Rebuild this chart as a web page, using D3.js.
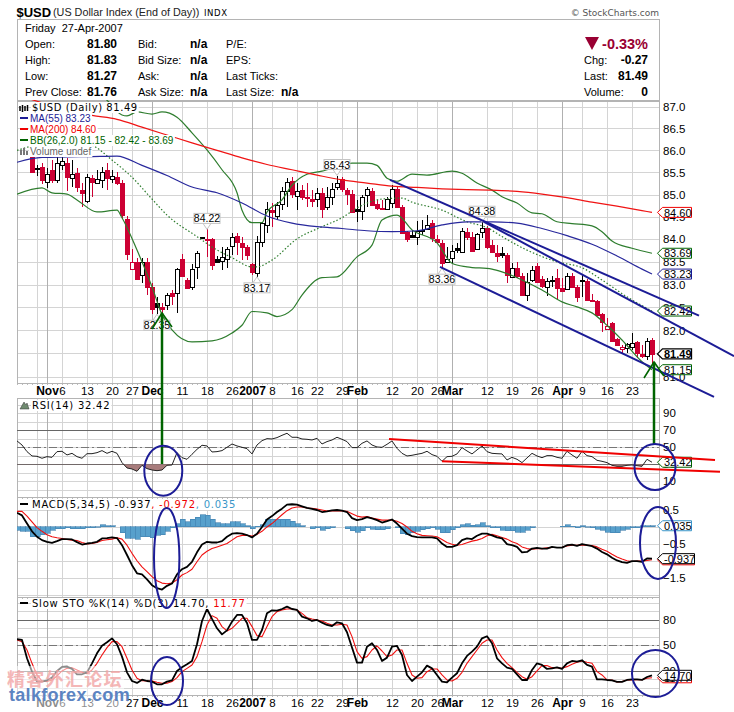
<!DOCTYPE html>
<html>
<head>
<meta charset="utf-8">
<title>$USD</title>
<script src="https://cdnjs.cloudflare.com/ajax/libs/d3/7.8.5/d3.min.js"></script>
<style>
html, body { margin: 0; padding: 0; background: #fff; }
svg { display: block; }
text { font-family: "Liberation Sans", Arial, sans-serif; fill: #000; }
.leg text, text.leg { font-family: "DejaVu Sans", Verdana, sans-serif; font-size: 10px; }
</style>
</head>
<body>
<script>
// market holidays inside the charted range
var closedDays = ["2006-11-23", "2006-12-25", "2007-01-01", "2007-01-15", "2007-02-19", "2007-04-06"];

// candles start on 27 Oct, the three days before are behind the legend
var candleStart = 3;
var prevCloseFirst = 85.9;
var opens = [85.87,85.60,85.62,85.28,85.55,85.33,85.66,85.71,85.37,85.48,85.10,84.86,85.37,85.26,85.33,85.55,85.35,85.39,85.26,84.46,
  83.34,83.50,83.21,83.50,82.95,82.60,82.51,82.56,82.82,82.82,83.56,83.10,82.95,83.39,84.04,84.01,84.01,83.56,83.52,83.56,
  83.87,84.08,83.92,83.83,83.45,83.26,83.94,84.32,84.65,84.52,84.79,85.08,85.30,84.97,85.10,84.95,84.90,84.90,85.04,84.72,
  84.95,85.17,85.35,85.10,85.01,84.68,84.63,84.99,85.08,84.79,84.70,84.68,84.81,85.12,84.72,84.17,84.10,84.06,84.21,84.24,
  84.37,84.01,83.92,83.50,83.59,83.80,83.72,84.17,84.06,83.78,84.17,84.26,83.87,83.69,83.69,83.65,83.17,83.37,83.19,82.77,
  83.10,83.41,83.13,82.95,83.09,83.15,82.93,82.91,83.19,82.95,83.10,83.08,82.67,82.65,82.36,82.03,82.17,81.81,81.60,81.62,
  81.64,81.75,81.49,81.44,81.80];
var highs = [85.91,85.66,85.71,85.60,85.78,85.96,85.89,85.82,85.78,85.60,85.26,85.46,85.44,85.55,85.62,85.71,85.55,85.51,85.33,84.52,
  83.78,83.59,83.59,83.59,83.04,82.73,82.60,82.82,82.88,83.37,83.67,83.15,83.45,83.74,84.05,84.22,84.03,83.63,83.83,83.83,
  84.15,84.15,84.06,83.87,83.47,84.08,84.39,84.83,84.81,84.83,85.17,85.37,85.39,85.26,85.21,85.26,85.10,85.15,85.15,85.17,
  85.26,85.43,85.39,85.15,85.10,84.88,84.99,85.17,85.15,84.88,84.88,84.95,85.21,85.17,84.77,84.19,84.21,84.41,84.43,84.54,
  84.43,84.10,83.98,83.83,83.87,83.92,84.26,84.26,84.17,84.15,84.38,84.30,83.98,83.87,83.83,83.69,83.47,83.50,83.26,83.26,
  83.41,83.47,83.19,83.15,83.19,83.34,83.15,83.26,83.26,82.99,83.21,83.13,82.80,82.67,82.38,82.26,82.19,81.83,81.68,81.72,
  81.94,81.77,81.68,81.83,81.83];
var lows = [85.49,85.42,85.24,85.15,85.26,85.26,85.55,85.08,85.17,85.06,84.72,84.81,84.95,85.24,85.15,85.10,85.26,85.21,84.46,83.54,
  83.32,83.10,83.04,82.77,82.36,82.35,82.36,82.45,82.56,82.38,83.17,82.91,82.88,83.13,84.02,83.61,83.32,83.47,83.32,83.37,
  83.65,83.65,83.54,83.54,83.21,83.17,83.83,84.15,84.28,84.43,84.65,84.72,84.92,84.65,84.88,84.72,84.72,84.72,84.48,84.65,
  84.77,85.10,85.06,84.77,84.59,84.39,84.43,84.72,84.74,84.65,84.67,84.67,84.70,84.70,84.12,83.94,84.03,83.87,84.10,84.21,
  83.94,83.89,83.36,83.47,83.47,83.69,83.69,83.98,83.74,83.76,84.03,83.79,83.69,83.50,83.59,83.04,83.15,83.15,82.75,82.65,
  83.06,83.04,82.93,82.75,82.95,82.69,82.84,82.88,82.93,82.62,82.73,82.65,82.62,82.32,81.96,82.01,81.77,81.66,81.51,81.51,
  81.57,81.40,81.40,81.36,81.27];
var closes = [85.51,85.59,85.33,85.46,85.33,85.71,85.75,85.39,85.46,85.17,85.04,85.39,85.28,85.35,85.51,85.37,85.42,85.26,84.54,83.69,
  83.50,83.13,83.50,82.95,82.47,82.51,82.47,82.77,82.76,83.34,83.19,82.93,83.34,83.69,84.03,84.00,83.43,83.50,83.61,83.78,
  84.06,83.94,83.83,83.65,83.28,83.94,84.37,84.68,84.61,84.77,85.08,85.28,85.01,85.08,84.95,84.93,84.86,85.04,84.68,84.95,
  85.12,85.26,85.12,85.01,84.61,84.63,84.95,85.12,84.77,84.70,84.68,84.90,85.12,84.72,84.15,84.01,84.06,84.19,84.20,84.32,
  84.03,83.94,83.47,83.56,83.74,83.75,84.19,84.06,83.76,84.12,84.26,83.83,83.72,83.63,83.65,83.21,83.37,83.19,82.77,83.06,
  83.32,83.06,82.97,83.08,83.08,82.93,82.86,83.19,82.95,82.73,83.08,82.67,82.65,82.34,82.19,82.10,81.79,81.68,81.64,81.70,
  81.72,81.51,81.44,81.76,81.49];

var ma55Days = [0,5,10,15,20,25,30,35,40,45,50,55,60,65,70,75,80,85,90,95,100,105,110,115,120,125,127];
var ma55 = [85.73,85.84,85.85,85.86,85.87,85.66,85.43,85.17,85.04,84.81,84.52,84.36,84.28,84.24,84.19,84.17,84.19,84.32,84.39,84.39,84.36,84.24,84.08,83.89,83.63,83.34,83.23];
var ma200 = [87.27,87.09,86.92,86.80,86.71,86.53,86.35,86.17,86.00,85.83,85.68,85.56,85.44,85.33,85.26,85.19,85.16,85.13,85.11,85.10,85.07,85.01,84.93,84.83,84.74,84.64,84.60];

var bbUpperDays = [0,10,18,21,22,24,27,29,32,35,38,41,44,45,47,49,50,53,55,58,61,64,67,70,72,74,76,79,82,87,89,92,95,97,100,103,105,108,111,115,117,119,123,127];
var bbUpper = [87.6,87.6,87.15,86.81,86.79,86.88,86.83,86.88,86.76,86.40,86.01,85.56,85.04,84.65,84.37,84.37,84.61,84.88,85.21,85.46,85.53,85.62,85.71,85.71,85.66,85.37,85.30,85.46,85.44,85.53,85.48,85.26,85.10,84.95,84.81,84.59,84.57,84.39,84.35,84.30,84.17,83.96,83.80,83.69];
var bbLowerDays = [0,5,7,10,12,16,20,21,24,27,29,31,35,39,43,45,47,50,52,55,57,61,64,68,71,73,76,79,84,87,90,95,97,101,105,109,112,115,118,121,125,127];
var bbLower = [85.01,85.15,85.04,85.01,84.88,84.61,84.65,84.48,83.76,82.95,82.34,82.01,81.75,81.77,81.94,82.11,82.41,82.38,82.30,82.45,82.77,83.15,83.17,83.61,83.87,84.43,84.54,84.21,83.92,83.47,83.39,83.34,83.28,83.10,82.88,82.62,82.51,82.38,82.11,81.79,81.32,81.15];
var bbMidDays = [0,10,15,19,23,27,30,36,39,43,47,48,51,56,61,65,68,73,77,79,85,90,94,97,102,108,113,117,122,127];
var bbMid = [86.00,86.24,86.12,85.78,85.39,84.90,84.54,84.06,83.83,83.59,83.39,83.39,83.54,84.01,84.28,84.48,84.70,84.90,84.92,84.83,84.65,84.39,84.26,84.06,83.76,83.50,83.37,83.10,82.73,82.42];

var rsi = [57.5,52.7,44.9,39.8,39.4,37.1,39.0,38.2,44.9,45.3,41.0,42.9,39.0,37.1,42.5,42.5,43.7,46.1,42.9,45.3,
  42.9,32.0,25.7,24.5,21.8,28.8,24.9,23.3,22.5,23.3,28.8,29.2,43.7,37.8,35.9,41.8,47.6,52.4,51.6,44.5,
  44.9,46.1,50.0,53.9,51.6,50.0,48.4,42.2,52.7,57.8,60.2,59.8,61.4,64.1,66.5,61.8,61.8,59.8,59.4,58.6,
  60.6,53.9,56.7,58.6,61.8,59.4,56.7,49.6,49.6,54.7,57.5,52.7,50.4,50.0,53.5,57.5,48.8,42.9,39.8,40.6,
  41.8,42.9,45.3,41.4,39.4,33.5,39.0,39.4,42.2,49.6,45.7,42.2,46.9,51.6,44.9,42.9,42.5,42.2,35.1,38.2,
  35.9,32.0,37.5,42.9,39.8,37.8,40.2,40.2,38.2,37.1,45.3,41.0,37.1,45.3,40.2,39.0,34.7,33.5,32.0,28.8,
  27.6,27.6,28.8,29.2,28.4,27.6,35.9,32.42];

var macd = [.42,.34,.10,-.13,-.29,-.39,-.44,-.47,-.42,-.36,-.36,-.37,-.45,-.52,-.49,-.47,-.44,-.34,-.33,-.31,
  -.33,-.54,-.83,-1.13,-1.37,-1.40,-1.55,-1.72,-1.81,-1.85,-1.74,-1.67,-1.40,-1.25,-1.18,-1.03,-.75,-.52,-.44,-.46,
  -.46,-.42,-.29,-.20,-.18,-.20,-.24,-.31,-.20,0,.22,.32,.44,.54,.66,.67,.66,.61,.56,.53,
  .50,.44,.46,.49,.50,.48,.44,.26,.20,.23,.29,.25,.20,.13,.17,.22,.10,-.05,-.20,-.27,
  -.30,-.31,-.31,-.31,-.34,-.49,-.59,-.59,-.54,-.39,-.34,-.36,-.26,-.20,-.20,-.25,-.31,-.34,-.51,-.54,
  -.59,-.75,-.74,-.64,-.62,-.64,-.64,-.59,-.61,-.61,-.54,-.52,-.56,-.51,-.54,-.57,-.64,-.74,-.81,-.91,
  -.99,-1.04,-1.06,-1.01,-1.01,-1.03,-.93,-.937];
var macdSignal = [.46,.46,.32,.15,-.02,-.13,-.23,-.29,-.32,-.34,-.37,-.39,-.40,-.46,-.50,-.49,-.46,-.40,-.38,-.36,
  -.32,-.36,-.54,-.78,-1.0,-1.18,-1.32,-1.47,-1.59,-1.66,-1.68,-1.66,-1.56,-1.42,-1.35,-1.25,-1.03,-.83,-.72,-.64,
  -.59,-.54,-.49,-.39,-.29,-.25,-.25,-.27,-.22,-.13,0,.10,.23,.36,.48,.56,.59,.59,.56,.55,
  .53,.50,.47,.47,.48,.47,.46,.39,.32,.29,.31,.26,.23,.20,.20,.20,.17,.10,0,-.13,
  -.20,-.25,-.26,-.27,-.29,-.37,-.46,-.51,-.54,-.52,-.47,-.42,-.39,-.34,-.26,-.22,-.26,-.31,-.36,-.44,
  -.49,-.59,-.64,-.66,-.64,-.64,-.62,-.61,-.61,-.60,-.56,-.54,-.54,-.53,-.54,-.55,-.59,-.66,-.72,-.81,
  -.89,-.95,-1.0,-1.02,-1.01,-1.01,-.99,-.972];
var macdHist = [-.10,-.13,-.13,-.29,-.29,-.23,-.18,-.10,-.05,-.05,-.03,-.05,-.05,-.05,-.02,-.02,-.01,.07,.04,.04,
  0,-.17,-.34,-.34,-.37,-.29,-.29,-.32,-.25,-.23,-.13,-.02,.10,.23,.15,.23,.29,.36,.34,.23,
  .13,.10,.10,.16,.16,.10,.03,-.05,.02,.07,.23,.23,.23,.23,.23,.17,.10,.03,0,-.05,
  -.02,-.10,-.05,-.02,0,0,-.05,-.12,-.15,-.12,-.03,-.07,-.08,-.08,-.05,0,-.02,-.20,-.23,-.17,
  -.13,-.08,-.05,-.03,-.07,-.17,-.17,-.08,-.02,.07,.10,.05,.07,.13,.03,-.02,-.03,-.10,-.12,-.12,
  -.15,-.15,-.10,-.02,0,0,0,0,0,.02,.07,.02,-.02,.03,-.01,-.02,-.07,-.10,-.15,-.17,
  -.17,-.10,-.07,-.02,-.02,.03,.04,.035];

var stoK = [57.1,56.3,34.7,19,7.3,7.3,8.8,12,19.8,24.5,24.9,22.2,15.9,15.9,18.2,28.8,40.6,49.6,53.5,58.2,
  51.2,36.7,18.2,8,5.7,9.6,8,7.3,4.1,4.1,7.3,8.8,19.8,24.1,27.6,31.6,51.2,78.6,92.7,81,
  70,62.9,67.6,77.8,85.7,85.7,76.3,56.3,56.3,68,87.6,91.2,90.8,92.7,95.5,92.7,91.6,83.7,81.8,78.6,
  79.8,76.7,73.9,72.7,77.1,75.9,65.3,47.3,29.6,29.6,48.4,52.4,44.5,31.6,35.5,48.4,49.2,38.6,15.1,8,
  13.1,18.2,26.1,22.9,15.1,7.3,6.5,12,17.1,28.8,37.5,42.5,48.4,58.2,60.6,52.4,34.7,28.8,23.7,22.2,
  15.9,9.2,9.2,21,28.8,26.9,22.2,22.9,24.1,22.2,28.8,31.6,30.8,32.4,26.9,24.9,10,10,9.2,8.8,
  6.9,6.9,9.2,10,10,9.2,12.7,14.70];
var stoD = [56.3,54.3,44.5,28.8,15.1,8,7.3,9.2,13.9,19.8,22.9,23.7,21,18.2,16.7,21,28.8,38.6,47.3,54.3,
  54.3,48.4,34.7,21,11.2,8.4,8,8,6.5,5.3,5.3,7.3,12,19,22.9,26.9,36.7,54.3,73.9,84.9,
  81.8,72,66.9,70,75.9,81.8,81.8,72,61.4,60.2,72,83.7,89.6,91.6,92.7,92.7,91.6,87.6,82.5,81,
  79.8,78.6,75.9,73.9,73.9,74.7,73.9,60.2,42.5,34.7,36.7,44.5,49.2,43.3,36.7,38.6,44.5,44.5,28.8,15.1,
  11.2,12,19,22.2,22.2,15.1,9.2,8,11.2,18.2,28.8,36.7,44.5,52.4,56.3,56.3,44.5,35.5,28.8,23.7,
  18.2,13.1,10,13.1,19.8,26.1,26.1,23.7,23.7,22.9,24.9,27.6,30,31.6,30,28.8,19,15.1,9.2,9.2,
  6.9,7.3,9.2,9.2,9.6,9.6,11.2,11.77];

// x axis labels, label day and whether it is a month start
var tickLabels = ["Nov","6","13","20","27","Dec","11","18","26","2007","8","16","22","29","Feb","12","20","26","Mar","12","19","26","Apr","9","16","23"];
var tickDates = ["2006-11-01","2006-11-06","2006-11-13","2006-11-20","2006-11-27","2006-12-01","2006-12-11","2006-12-18","2006-12-26","2007-01-02","2007-01-08","2007-01-16","2007-01-22","2007-01-29","2007-02-01","2007-02-12","2007-02-20","2007-02-26","2007-03-01","2007-03-12","2007-03-19","2007-03-26","2007-04-02","2007-04-09","2007-04-16","2007-04-23"];
var monthLabels = ["Nov","Dec","2007","Feb","Mar","Apr"];

var priceTicks = [81,81.5,82,82.5,83,83.5,84,84.5,85,85.5,86,86.5,87];
var rsiTicks = [10,30,50,70,90];
var macdTicks = [-1.5,-.5,.5];
var stoTicks = [20,50,80];

// high and low callouts on the price panel
var calloutDays = [28,38,48,64,85,93];
var calloutValues = [82.35,84.22,83.17,85.43,83.36,84.38];
var calloutBelow = [true,false,true,false,true,false];

var infoRows = [
  ["Open:","81.80","Bid:","n/a","P/E:",""],
  ["High:","81.83","Bid Size:","n/a","EPS:",""],
  ["Low:","81.27","Ask:","n/a","Last Ticks:",""],
  ["Prev Close:","81.76","Ask Size:","n/a","Last Size:","n/a"]
];

// hand drawn lines on the chart: [day, value]
var channelLines = [[[74.6,85.33],[136.4,82.32]],[[93.4,84.39],[143.4,81.44]],[[84.6,83.39],[139.4,80.57]]];
var rsiLines = [[[74.4,59.8],[139.6,35.1]],[[85,33.5],[140.6,21.3]]];

var navy = "#1c1c96", darkGreen = "#006400", candleRed = "#cc0033", gridCol = "#d4d4d4", frameCol = "#b4b4b4";
var left = 17, right = 659;

var fmtDay = d3.timeFormat("%Y-%m-%d");
var days = d3.timeDay.range(new Date(2006, 9, 24), new Date(2007, 3, 28)).filter(function(d) {
  return d.getDay() != 0 && d.getDay() != 6 && closedDays.indexOf(fmtDay(d)) < 0;
});
var dayKeys = days.map(fmtDay);

var svg = d3.select("body").append("svg").attr("width", 734).attr("height", 712);

var x = d3.scaleLinear().domain([0, days.length - 1]).range([left, left + 5 * (days.length - 1)]);
function dayX(key) { return x(dayKeys.indexOf(key)); }

var yPrice = d3.scaleLog().domain([81, 87]).range([376.7, 106.7]);
var yRsi = d3.scaleLinear().domain([0, 100]).range([489.8, 404.8]);
var yMacd = d3.scaleLinear().domain([-1.5, .5]).range([577.7, 510]);
var ySto = d3.scaleLinear().domain([0, 100]).range([687.8, 602.8]);

function add_clip(id, top, bottom) {
  svg.append("clipPath").attr("id", id).append("rect")
    .attr("x", left).attr("y", top).attr("width", right - left).attr("height", bottom - top);
}

// frame, grid and tick labels of one panel
function add_panel(top, bottom, y, gridValues, axisTicks, fmt) {
  var g = svg.append("g").attr("shape-rendering", "crispEdges");
  g.selectAll(".h").data(gridValues).enter().append("line")
    .attr("x1", left).attr("x2", right)
    .attr("y1", function(d) { return Math.round(y(d)) + .5; })
    .attr("y2", function(d) { return Math.round(y(d)) + .5; })
    .attr("stroke", gridCol);
  var vx = tickDates.concat(["2006-10-30"]);
  g.selectAll(".v").data(vx).enter().append("line")
    .attr("x1", function(d) { return dayX(d) + .5; })
    .attr("x2", function(d) { return dayX(d) + .5; })
    .attr("y1", top).attr("y2", bottom)
    .attr("stroke", function(d, i) {
      return i < tickLabels.length && monthLabels.indexOf(tickLabels[i]) >= 0 ? "#b0b0b0" : gridCol;
    });
  // day ticks along the lower edge
  g.selectAll(".t").data(days).enter().append("line")
    .attr("x1", function(d, i) { return x(i) + .5; })
    .attr("x2", function(d, i) { return x(i) + .5; })
    .attr("y1", bottom).attr("y2", bottom + 2)
    .attr("stroke", "#bbb");
  g.append("rect").attr("x", left + .5).attr("y", top + .5)
    .attr("width", right - left).attr("height", bottom - top)
    .attr("fill", "none").attr("stroke", frameCol);

  var axis = d3.axisRight(y).tickValues(axisTicks).tickFormat(fmt).tickSize(0).tickPadding(4);
  var ag = svg.append("g").attr("transform", "translate(" + right + ",0)").call(axis);
  ag.select(".domain").remove();
  ag.selectAll("text").attr("font-size", 11.5).attr("font-family", "Liberation Sans").attr("fill", "#000");
}

function add_x_labels(yPos) {
  svg.append("g").selectAll("text").data(tickLabels).enter().append("text")
    .attr("x", function(d, i) { return dayX(tickDates[i]) + .5; })
    .attr("y", yPos)
    .attr("text-anchor", "middle")
    .attr("font-size", function(d) { return monthLabels.indexOf(d) >= 0 ? 12 : 11.5; })
    .attr("font-weight", function(d) { return monthLabels.indexOf(d) >= 0 ? "bold" : "normal"; })
    .text(function(d) { return d; });
}

function add_line(clip, y, xs, ys, col, w, dash, curve) {
  var line = d3.line()
    .x(function(d) { return x(d[0]); })
    .y(function(d) { return y(d[1]); });
  if (curve) line.curve(curve);
  svg.append("path")
    .datum(xs.map(function(d, i) { return [d, ys[i]]; }))
    .attr("clip-path", clip ? "url(#" + clip + ")" : null)
    .attr("d", line)
    .attr("fill", "none").attr("stroke", col).attr("stroke-width", w)
    .attr("stroke-dasharray", dash || null)
    .attr("stroke-linejoin", "round");
}

function add_level(y, value, col, dash) {
  svg.append("line").attr("x1", left).attr("x2", right)
    .attr("y1", Math.round(y(value)) + .5).attr("y2", Math.round(y(value)) + .5)
    .attr("stroke", col).attr("stroke-dasharray", dash || null)
    .attr("shape-rendering", "crispEdges");
}

// pointer tag with the last value next to the axis
function add_tag(yPos, label, col, bold) {
  var g = svg.append("g").attr("transform", "translate(0," + yPos + ")");
  var end = label.length > 5 ? 694.5 : 691.5;
  g.append("path")
    .attr("d", "M657.5,0 L662.5,-5 L" + end + ",-5 L" + end + ",5 L662.5,5 Z")
    .attr("fill", "#fff").attr("stroke", col).attr("stroke-width", bold ? 1.3 : 1);
  g.append("text").attr("x", 664).attr("y", 4.2)
    .attr("font-size", 11).attr("font-weight", bold ? "bold" : "normal")
    .text(label);
}

function add_legend_text(xPos, yPos, parts, spacing, narrow) {
  var t = svg.append("text").attr("class", narrow ? null : "leg").attr("x", xPos).attr("y", yPos)
    .attr("font-size", 10).style("letter-spacing", spacing + "px");
  parts.forEach(function(p) { t.append("tspan").style("fill", p[1]).text(p[0]); });
  var b = t.node().getBBox();
  svg.insert("rect", function() { return t.node(); })
    .attr("x", b.x - 1).attr("y", b.y).attr("width", b.width + 2).attr("height", b.height).attr("fill", "#fff");
  return t;
}

function add_header() {
  svg.append("text").attr("x", 16.5).attr("y", 16.5).attr("font-size", 13).attr("font-weight", "bold").text("$USD");
  svg.append("text").attr("x", 53).attr("y", 16).attr("font-size", 10.8).style("fill", "#222").text("(US Dollar Index (End of Day))");
  svg.append("text").attr("class", "leg").attr("x", 204).attr("y", 16).style("font-size", "8.5px").style("letter-spacing", ".6px").text("INDX");
  svg.append("text").attr("class", "leg").attr("x", 659).attr("y", 15.5).attr("text-anchor", "end")
    .style("font-size", "9px").style("fill", "#555").text("\u00a9 StockCharts.com");

  svg.append("rect").attr("x", left + .5).attr("y", 19.5).attr("width", right - left).attr("height", 81)
    .attr("fill", "#fff").attr("stroke", frameCol).attr("shape-rendering", "crispEdges");

  svg.append("text").attr("x", 25).attr("y", 32).attr("font-size", 11).text("Friday  27-Apr-2007")
    .style("white-space", "pre");

  var rowY = [48, 64, 80, 96];
  infoRows.forEach(function(r, i) {
    svg.append("text").attr("x", 25).attr("y", rowY[i]).attr("font-size", 11).text(r[0]);
    svg.append("text").attr("x", 87).attr("y", rowY[i]).attr("font-size", 12).attr("font-weight", "bold").text(r[1]);
    svg.append("text").attr("x", 138).attr("y", rowY[i]).attr("font-size", 11).text(r[2]);
    svg.append("text").attr("x", 190).attr("y", rowY[i]).attr("font-size", 12).attr("font-weight", "bold").text(r[3]);
    svg.append("text").attr("x", 226).attr("y", rowY[i]).attr("font-size", 11).text(r[4]);
    svg.append("text").attr("x", 281).attr("y", rowY[i]).attr("font-size", 12).attr("font-weight", "bold").text(r[5]);
  });

  svg.append("path").attr("d", "M585,37 L599,37 L592,50 Z").attr("fill", "#990033");
  svg.append("text").attr("x", 648).attr("y", 49).attr("text-anchor", "end").attr("font-size", 14.5)
    .attr("font-weight", "bold").style("fill", "#990033").text("-0.33%");
  var sideRows = [["Chg:", "-0.27", 64], ["Last:", "81.49", 80], ["Volume:", "0", 96]];
  sideRows.forEach(function(r) {
    svg.append("text").attr("x", 584).attr("y", r[2]).attr("font-size", 11).text(r[0]);
    svg.append("text").attr("x", 648).attr("y", r[2]).attr("text-anchor", "end").attr("font-size", 12)
      .attr("font-weight", "bold").text(r[1]);
  });
}

function add_candles() {
  var data = closes.map(function(c, i) {
    return {
      day: i + candleStart, o: opens[i], h: highs[i], l: lows[i], c: c,
      prev: i == 0 ? prevCloseFirst : closes[i - 1]
    };
  });
  function col(d) { return d.c >= d.prev ? "#000" : candleRed; }
  var g = svg.append("g").attr("clip-path", "url(#clipPrice)").attr("shape-rendering", "crispEdges");
  var c = g.selectAll("g").data(data).enter().append("g");
  c.append("line")
    .attr("x1", function(d) { return x(d.day) + .5; })
    .attr("x2", function(d) { return x(d.day) + .5; })
    .attr("y1", function(d) { return yPrice(d.h); })
    .attr("y2", function(d) { return yPrice(d.l); })
    .attr("stroke", col);
  c.append("rect")
    .attr("x", function(d) { return x(d.day) - 1.5; })
    .attr("width", 4)
    .attr("y", function(d) { return Math.round(yPrice(Math.max(d.o, d.c))) + .5; })
    .attr("height", function(d) { return Math.max(1, Math.abs(yPrice(d.o) - yPrice(d.c))); })
    .attr("fill", function(d) { return d.c > d.o ? "#fff" : col(d); })
    .attr("stroke", col);
}

function add_callouts() {
  calloutValues.forEach(function(v, i) {
    var px = x(calloutDays[i]), tip = yPrice(v), below = calloutBelow[i];
    var cy = below ? tip + 11 : tip - 11;
    svg.append("path")
      .attr("d", "M" + (px - 4) + "," + (cy + (below ? -5 : 5)) + " L" + px + "," + tip + " L" + (px + 4) + "," + (cy + (below ? -5 : 5)))
      .attr("fill", "#fff").attr("stroke", "#c4c4c4");
    svg.append("rect").attr("x", px - 13).attr("y", cy - 5).attr("width", 26).attr("height", 10)
      .attr("fill", "#fff").attr("stroke", "#c4c4c4");
    svg.append("text").attr("x", px).attr("y", cy + 4).attr("text-anchor", "middle")
      .attr("font-size", 10.5).text(v.toFixed(2));
  });
}

function add_ellipse(cx, cy, rx, ry) {
  svg.append("ellipse").attr("cx", cx).attr("cy", cy).attr("rx", rx).attr("ry", ry)
    .attr("fill", "none").attr("stroke", navy).attr("stroke-width", 2);
}

function add_arrow(px, tip, end) {
  var col = darkGreen;
  svg.append("line").attr("x1", px).attr("x2", px).attr("y1", tip).attr("y2", end)
    .attr("stroke", col).attr("stroke-width", 2.5);
  svg.append("path").attr("d", "M" + (px - 10) + "," + (tip + 16) + " L" + px + "," + tip + " L" + (px + 10) + "," + (tip + 14))
    .attr("fill", "none").attr("stroke", col).attr("stroke-width", 1.6);
}

// ---- draw ----
add_header();
add_clip("clipPrice", 100, 384);
add_clip("clipRsi", 398, 498);
add_clip("clipMacd", 498, 597);
add_clip("clipSto", 597, 695);

add_panel(100.5, 383, yPrice, priceTicks, priceTicks, d3.format(".1f"));
add_x_labels(395);
add_panel(398, 497, yRsi, d3.range(0, 101, 10), rsiTicks, d3.format("d"));
add_panel(497, 597, yMacd, [-2, -1.5, -1, -.5, 0, .5], macdTicks, d3.format(".1f"));
add_panel(597, 695, ySto, d3.range(0, 101, 10), stoTicks, d3.format("d"));
add_x_labels(707);

// price panel
add_candles();
add_line("clipPrice", yPrice, bbLowerDays, bbLower, "#2e7d2e", 1.2, null, d3.curveMonotoneX);
add_line("clipPrice", yPrice, bbUpperDays, bbUpper, "#2e7d2e", 1.2, null, d3.curveMonotoneX);
add_line("clipPrice", yPrice, bbMidDays, bbMid, "#2e7d2e", 1.2, "1.5,2", d3.curveMonotoneX);
add_line("clipPrice", yPrice, ma55Days, ma55, "#28289c", 1.2, null, d3.curveMonotoneX);
add_line("clipPrice", yPrice, ma55Days, ma200, "#f01414", 1.2, null, d3.curveMonotoneX);
add_callouts();

// price legend
add_legend_text(32, 111, [["$USD (Daily) 81.49", "#000"]], .55);
add_legend_text(30, 122, [["MA(55) 83.23", navy]], 0, true);
add_legend_text(30, 133, [["MA(200) 84.60", "#f00000"]], 0, true);
add_legend_text(30, 144, [["BB(26,2.0) 81.15 - 82.42 - 83.69", darkGreen]], 0, true);
add_legend_text(30, 155, [["Volume undef", "#666"]], 0, true);
svg.append("path").attr("d", "M20,106 v5 M22.5,105 v7 M25,106 v5 M27.5,105 v6").attr("stroke", "#000").attr("stroke-width", 1.5);
svg.append("line").attr("x1", 20).attr("x2", 28).attr("y1", 118).attr("y2", 118).attr("stroke", navy).attr("stroke-width", 2);
svg.append("line").attr("x1", 20).attr("x2", 28).attr("y1", 129).attr("y2", 129).attr("stroke", "#f00000").attr("stroke-width", 2);
svg.append("line").attr("x1", 20).attr("x2", 28).attr("y1", 140).attr("y2", 140).attr("stroke", darkGreen).attr("stroke-width", 2);
svg.append("path").attr("d", "M20,155 v-5 h2 v5 M23,155 v-7 h2 v7 M26,155 v-4 h2 v4").attr("fill", "#777");

// rsi panel
add_level(yRsi, 70, "#666");
add_level(yRsi, 30, "#666");
add_level(yRsi, 50, "#777", "8,3,2,3");
var rsiDays = rsi.map(function(d, i) { return i; });
svg.append("clipPath").attr("id", "clipRsiLow").append("rect")
  .attr("x", left).attr("y", yRsi(30)).attr("width", right - left).attr("height", 30);
svg.append("path").datum(rsi)
  .attr("clip-path", "url(#clipRsiLow)")
  .attr("d", d3.area().x(function(d, i) { return x(i); }).y0(yRsi(30)).y1(function(d) { return yRsi(d); }))
  .attr("fill", "#a87c7c");
add_line("clipRsi", yRsi, rsiDays, rsi, "#222", 1);
add_legend_text(32, 409, [["RSI(14) 32.42", "#000"]], .75);
svg.append("path").attr("d", "M20,409 L24,402 L26,405 L27,403 L29,409 Z").attr("fill", "#6f8a6f").attr("stroke", "#333").attr("stroke-width", .5);

// macd panel
var hist = svg.append("g").attr("clip-path", "url(#clipMacd)").attr("shape-rendering", "crispEdges");
hist.selectAll("rect").data(macdHist).enter().append("rect")
  .attr("x", function(d, i) { return x(i) - 2; })
  .attr("width", 5)
  .attr("y", function(d) { return Math.min(yMacd(d), yMacd(0)); })
  .attr("height", function(d) { return Math.abs(yMacd(d) - yMacd(0)); })
  .attr("fill", "#57a0cc").attr("stroke", "#3f7fae").attr("stroke-width", .6);
add_line("clipMacd", yMacd, rsiDays, macdSignal, "#f01010", 1.1);
add_line("clipMacd", yMacd, rsiDays, macd, "#000", 1.8);
add_legend_text(32, 508, [["MACD(5,34,5) -0.937", "#000"], [", -0.972", "#f00000"], [", 0.035", "#3a96c8"]], .75);
svg.append("line").attr("x1", 20).attr("x2", 28).attr("y1", 504).attr("y2", 504).attr("stroke", "#000").attr("stroke-width", 2);

// slow stochastic panel
add_level(ySto, 80, "#666");
add_level(ySto, 20, "#666");
add_level(ySto, 50, "#777", "8,3,2,3");
add_line("clipSto", ySto, rsiDays, stoD, "#f01010", 1.1);
add_line("clipSto", ySto, rsiDays, stoK, "#000", 1.8);
add_legend_text(32, 607, [["Slow STO %K(14) %D(3) 14.70,", "#000"], [" 11.77", "#f00000"]], .75);
svg.append("line").attr("x1", 20).attr("x2", 28).attr("y1", 603).attr("y2", 603).attr("stroke", "#000").attr("stroke-width", 2);

// value tags
add_tag(yPrice(84.60), "84.60", "#f00000");
add_tag(yPrice(83.69), "83.69", darkGreen);
add_tag(yPrice(83.23), "83.23", navy);
add_tag(yPrice(82.42), "82.42", darkGreen);
add_tag(yPrice(81.15), "81.15", darkGreen);
add_tag(yPrice(81.49), "81.49", "#000", true);
add_tag(yRsi(32.42), "32.42", darkGreen);
add_tag(yMacd(.035), "0.035", "#3a96c8");
add_tag(yMacd(-.972), "-0.972", "#f00000");
add_tag(yMacd(-.937), "-0.937", "#000");
add_tag(ySto(11.77), "11.77", "#f00000");
add_tag(ySto(14.70), "14.70", "#000");

// hand drawn marks
channelLines.forEach(function(l) {
  add_line(null, yPrice, [l[0][0], l[1][0]], [l[0][1], l[1][1]], navy, 2);
});
rsiLines.forEach(function(l) {
  add_line(null, yRsi, [l[0][0], l[1][0]], [l[0][1], l[1][1]], "#f00000", 2);
});
add_arrow(162, 313, 464);
add_arrow(654, 362, 444);
add_ellipse(163.3, 470.7, 19, 25);
add_ellipse(655, 467, 20.5, 23);
add_ellipse(166.7, 558, 12.7, 50);
add_ellipse(658, 543, 18, 36);
add_ellipse(167, 681, 16, 24);
add_ellipse(655.5, 673.5, 23.5, 23.5);

// forum watermark
svg.append("rect").attr("x", 6).attr("y", 666).attr("width", 118).attr("height", 44).attr("fill", "#fff").attr("opacity", .55);
svg.append("text").attr("x", 7).attr("y", 686).attr("font-size", 18).attr("font-weight", "bold").attr("opacity", .8)
  .style("font-family", "'Noto Sans CJK SC'").style("fill", "#f2a6a6").style("letter-spacing", "1.3px").text("精客外汇论坛");
svg.append("text").attr("x", 9).attr("y", 701).attr("font-size", 18).attr("font-weight", "bold")
  .style("fill", "#5c84c2").style("letter-spacing", ".3px").text("talkforex.com");
</script>
</body>
</html>
